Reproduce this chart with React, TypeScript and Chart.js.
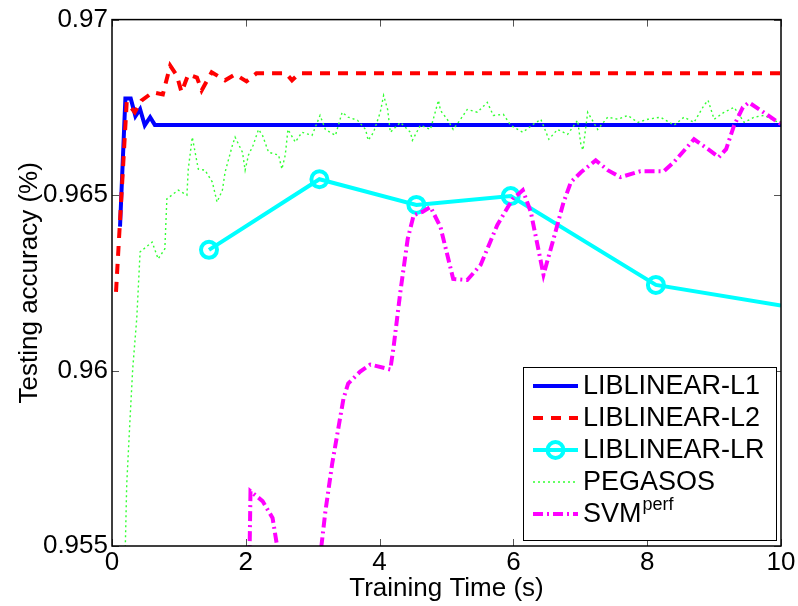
import React, { useEffect, useRef } from 'react';
import { Chart, registerables } from 'chart.js';
Chart.register(...registerables);

const X_TICKS = [0, 2, 4, 6, 8, 10];
const X_TICK_LABELS = ['0', '2', '4', '6', '8', '10'];
const Y_TICKS = [0.955, 0.96, 0.965, 0.97];
const Y_TICK_LABELS = ['0.955', '0.96', '0.965', '0.97'];

const SERIES_NAMES = ['LIBLINEAR-L1', 'LIBLINEAR-L2', 'LIBLINEAR-LR', 'PEGASOS', 'SVM'];

const L1_X = [0.12, 0.2, 0.28, 0.35, 0.42, 0.49, 0.57, 0.64, 10];
const L1_Y = [0.9641, 0.96775, 0.96775, 0.96725, 0.96745, 0.96699, 0.96722, 0.967, 0.967];

const L2_X = [0.06, 0.22, 0.34, 0.44, 0.61, 0.76, 0.87, 0.97, 1.04, 1.14, 1.27, 1.34, 1.49, 1.69, 1.84, 2.01, 2.16, 2.6, 2.69, 2.8, 10];
const L2_Y = [0.96224, 0.96765, 0.96736, 0.96769, 0.96793, 0.96787, 0.96869, 0.9684, 0.96793, 0.96844, 0.96835, 0.96798, 0.9685, 0.96827, 0.96844, 0.96824, 0.96847, 0.96847, 0.96827, 0.96847, 0.96847];

const LR_X = [1.45, 3.1, 4.55, 5.96, 8.13, 10];
const LR_Y = [0.96344, 0.96545, 0.96472, 0.96497, 0.96244, 0.96185];
const LR_MARKED = [true, true, true, true, true, false];

const PEG_X = [0.18, 0.22, 0.27, 0.31, 0.37, 0.42, 0.6, 0.69, 0.79, 0.82, 0.99, 1.12, 1.14, 1.2, 1.29, 1.39, 1.5, 1.57, 1.65, 1.69, 1.8, 1.84, 1.95, 1.99, 2.04, 2.11, 2.19, 2.25, 2.34, 2.49, 2.54, 2.59, 2.63, 2.74, 2.84, 2.99, 3.11, 3.19, 3.34, 3.44, 3.53, 3.67, 3.79, 3.83, 3.91, 4.01, 4.06, 4.12, 4.16, 4.31, 4.46, 4.49, 4.61, 4.76, 4.88, 4.91, 5.01, 5.1, 5.21, 5.31, 5.46, 5.61, 5.7, 5.85, 5.96, 6.14, 6.3, 6.41, 6.53, 6.66, 6.81, 6.96, 7.01, 7.04, 7.11, 7.26, 7.41, 7.56, 7.71, 7.86, 8.01, 8.2, 8.4, 8.55, 8.7, 8.85, 8.91, 9.0, 9.15, 9.3, 9.45, 9.6, 9.75, 9.96, 10];
const PEG_Y = [0.9534, 0.95676, 0.95864, 0.96006, 0.96148, 0.96338, 0.96366, 0.96318, 0.96347, 0.96489, 0.96514, 0.965, 0.96574, 0.96665, 0.96574, 0.96571, 0.96537, 0.9648, 0.96514, 0.96565, 0.96642, 0.96665, 0.96622, 0.96571, 0.96614, 0.96642, 0.96687, 0.9667, 0.96622, 0.96614, 0.96574, 0.96614, 0.96687, 0.96651, 0.96679, 0.9667, 0.96727, 0.96687, 0.9667, 0.96736, 0.96722, 0.96713, 0.96687, 0.96656, 0.96679, 0.96736, 0.96784, 0.96744, 0.96679, 0.96707, 0.96679, 0.96656, 0.96699, 0.96687, 0.9677, 0.96741, 0.96716, 0.96687, 0.96716, 0.96744, 0.96736, 0.96764, 0.96727, 0.9673, 0.96699, 0.96679, 0.96702, 0.96716, 0.96659, 0.96687, 0.96673, 0.96713, 0.96642, 0.96628, 0.96736, 0.96687, 0.96722, 0.96716, 0.96727, 0.96707, 0.96716, 0.96722, 0.96699, 0.96722, 0.96707, 0.96756, 0.9677, 0.96716, 0.96736, 0.9675, 0.96707, 0.96722, 0.96727, 0.96707, 0.9671];

const SVM_X = [2.05, 2.07, 2.25, 2.4, 2.51, 2.8, 3.1, 3.19, 3.29, 3.46, 3.53, 3.71, 3.86, 4.16, 4.21, 4.31, 4.42, 4.51, 4.64, 4.76, 4.91, 5.1, 5.31, 5.51, 5.76, 5.99, 6.14, 6.26, 6.45, 6.6, 6.75, 6.86, 7.01, 7.23, 7.41, 7.6, 7.9, 8.25, 8.4, 8.7, 8.91, 9.07, 9.18, 9.3, 9.43, 9.52, 9.7, 10.0];
const SVM_Y = [0.954, 0.95656, 0.95628, 0.9558, 0.9545, 0.953, 0.9545, 0.95599, 0.95733, 0.9592, 0.95963, 0.95997, 0.96017, 0.96003, 0.96068, 0.96224, 0.96375, 0.96443, 0.96452, 0.96466, 0.96409, 0.96261, 0.96258, 0.96301, 0.96415, 0.96489, 0.96514, 0.96452, 0.96273, 0.96375, 0.9648, 0.96537, 0.96565, 0.96599, 0.96571, 0.96551, 0.96568, 0.96568, 0.96594, 0.96659, 0.96631, 0.96608, 0.96631, 0.96699, 0.9675, 0.96764, 0.96741, 0.96702];

const FONT = "'Liberation Sans', Arial, Helvetica, sans-serif";

const STYLES = [
  { color: '#0000ff', width: 4, dash: [] as number[] },
  { color: '#ff0000', width: 4, dash: [10, 8] },
  { color: '#00ffff', width: 4, dash: [] as number[] },
  { color: '#33ff33', width: 1.4, dash: [2, 3] },
  { color: '#ff00ff', width: 4, dash: [10, 4, 2, 4] },
];

const zip = (xs: number[], ys: number[]) => xs.map((x, i) => ({ x, y: ys[i] }));

const framePlugin = {
  id: 'frame',
  afterDatasetsDraw(chart: any) {
    const { ctx, chartArea: a, scales } = chart;
    ctx.save();
    ctx.strokeStyle = '#555';
    ctx.lineWidth = 1;
    const tl = 7;
    X_TICKS.forEach((t) => {
      const px = Math.round(scales.x.getPixelForValue(t)) + 0.5;
      ctx.beginPath();
      ctx.moveTo(px, a.bottom); ctx.lineTo(px, a.bottom - tl);
      ctx.moveTo(px, a.top); ctx.lineTo(px, a.top + tl);
      ctx.stroke();
    });
    Y_TICKS.forEach((t) => {
      const py = Math.round(scales.y.getPixelForValue(t)) + 0.5;
      ctx.beginPath();
      ctx.moveTo(a.left, py); ctx.lineTo(a.left + tl, py);
      ctx.moveTo(a.right, py); ctx.lineTo(a.right - tl, py);
      ctx.stroke();
    });
    ctx.strokeStyle = '#000';
    ctx.lineWidth = 1.5;
    ctx.strokeRect(a.left, a.top, a.right - a.left, a.bottom - a.top);
    ctx.restore();
  },
  afterDraw(chart: any) {
    const { ctx } = chart;
    const bx = 523, by = 367, bw = 253, bh = 173;
    ctx.save();
    ctx.fillStyle = '#fff';
    ctx.fillRect(bx, by, bw, bh);
    ctx.strokeStyle = '#000';
    ctx.lineWidth = 1;
    ctx.strokeRect(bx + 0.5, by + 0.5, bw, bh);
    const rowY = [386, 418, 450, 482, 514];
    const x0 = 533, x1 = 578, tx = 583;
    SERIES_NAMES.forEach((name, i) => {
      const s = STYLES[i];
      const y = rowY[i];
      ctx.strokeStyle = s.color;
      ctx.lineWidth = s.width;
      ctx.setLineDash(s.dash);
      ctx.beginPath();
      ctx.moveTo(x0, y); ctx.lineTo(x1, y);
      ctx.stroke();
      ctx.setLineDash([]);
      if (i === 2) {
        ctx.beginPath();
        ctx.arc((x0 + x1) / 2, y, 8, 0, Math.PI * 2);
        ctx.stroke();
      }
      ctx.fillStyle = '#000';
      ctx.textBaseline = 'middle';
      ctx.textAlign = 'left';
      ctx.font = `27px ${FONT}`;
      ctx.fillText(name, tx, y + 1);
      if (i === 4) {
        const w = ctx.measureText(name).width;
        ctx.font = `18px ${FONT}`;
        ctx.fillText('perf', tx + w + 1, y - 9);
      }
    });
    ctx.restore();
  },
};

export default function App() {
  const ref = useRef<HTMLCanvasElement>(null);
  useEffect(() => {
    const series = [
      zip(L1_X, L1_Y), zip(L2_X, L2_Y), zip(LR_X, LR_Y), zip(PEG_X, PEG_Y), zip(SVM_X, SVM_Y),
    ];
    const datasets = series.map((data, i) => ({
      label: SERIES_NAMES[i],
      data,
      borderColor: STYLES[i].color,
      backgroundColor: 'rgba(0,0,0,0)',
      borderWidth: STYLES[i].width,
      borderDash: STYLES[i].dash,
      pointRadius: i === 2 ? LR_MARKED.map((m) => (m ? 8 : 0)) : 0,
      pointBorderWidth: 4,
      pointBorderColor: STYLES[i].color,
      pointBackgroundColor: 'rgba(0,0,0,0)',
      pointHoverRadius: 0,
      tension: 0,
      fill: false,
      order: 5 - i,
    }));
    const chart = new Chart(ref.current as HTMLCanvasElement, {
      type: 'line',
      data: { datasets },
      plugins: [framePlugin],
      options: {
        animation: false,
        responsive: false,
        devicePixelRatio: 1,
        layout: { padding: { top: 17, right: 17, left: 0, bottom: 0 } },
        plugins: { legend: { display: false }, tooltip: { enabled: false } },
        scales: {
          x: {
            type: 'linear',
            min: 0,
            max: 10,
            afterBuildTicks: (s: any) => { s.ticks = X_TICKS.map((v) => ({ value: v })); },
            afterFit: (s: any) => { s.height = 60; },
            ticks: {
              color: '#000',
              font: { family: FONT, size: 26 },
              padding: 1,
              maxRotation: 0,
              callback: (v: any) => X_TICK_LABELS[X_TICKS.indexOf(Number(v))] ?? '',
            },
            grid: { display: false, drawTicks: false },
            border: { display: false },
            title: { display: true, text: 'Training Time (s)', color: '#000', font: { family: FONT, size: 26 }, padding: { top: 0, bottom: 2 } },
          },
          y: {
            type: 'linear',
            min: 0.955,
            max: 0.97,
            afterBuildTicks: (s: any) => { s.ticks = Y_TICKS.map((v) => ({ value: v })); },
            afterFit: (s: any) => { s.width = 112; },
            ticks: {
              color: '#000',
              font: { family: FONT, size: 26 },
              padding: 4,
              callback: (v: any) => {
                const k = Y_TICKS.findIndex((t) => Math.abs(t - Number(v)) < 1e-9);
                return k >= 0 ? Y_TICK_LABELS[k] : '';
              },
            },
            grid: { display: false, drawTicks: false },
            border: { display: false },
            title: { display: true, text: 'Testing accuracy (%)', color: '#000', font: { family: FONT, size: 26 }, padding: { top: 14, bottom: 0 } },
          },
        },
      },
    } as any);
    return () => chart.destroy();
  }, []);
  return (
    <div style={{ position: 'absolute', left: 0, top: 0, width: 798, height: 606, background: '#fff' }}>
      <canvas ref={ref} width={798} height={606} style={{ display: 'block', width: 798, height: 606 }} />
    </div>
  );
}
